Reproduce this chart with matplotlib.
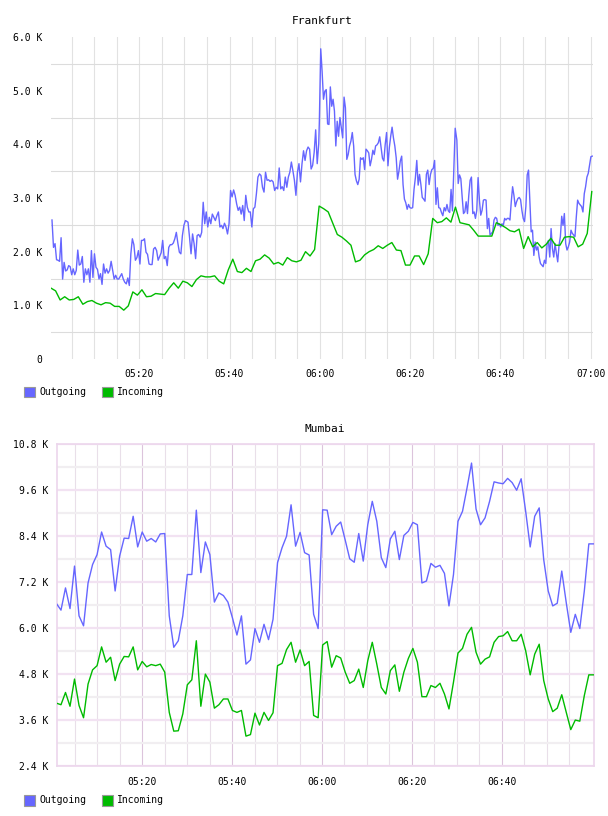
import numpy as np
import matplotlib.pyplot as plt
from matplotlib.patches import Rectangle
from matplotlib.ticker import FuncFormatter

# values in K, x in minutes after 05:00

# frankfurt outgoing (~20 s samples), read in four chunks
fra_out_a = [2.59, 2.08, 2.15, 1.85, 1.84, 1.82, 2.26, 1.49, 1.80, 1.64,
             1.66, 1.74, 1.72, 1.57, 1.68, 1.57, 1.65, 2.03, 1.75, 1.77,
             1.91, 1.43, 1.68, 1.57, 1.68, 1.43, 2.02, 1.52, 1.96, 1.71,
             1.67, 1.49, 1.59, 1.39, 1.77, 1.60, 1.68, 1.60, 1.65, 1.82,
             1.65, 1.49, 1.56, 1.49, 1.49, 1.54, 1.59, 1.49, 1.43, 1.40,
             1.51, 1.37, 1.96, 2.24, 2.13, 1.84, 1.89, 2.02, 1.77, 2.21,
             2.21, 2.24, 1.99, 1.95, 1.77, 1.76, 1.76, 2.05, 2.08, 2.02,
             1.84, 1.91, 1.98, 2.21, 1.87, 1.91, 1.74, 2.08, 2.13, 2.13,
             2.16, 2.24, 2.36, 2.16, 1.99, 1.96, 2.30, 2.49, 2.58]
fra_out_b = [2.55, 2.27, 1.96, 2.33, 2.15, 1.87, 2.30, 2.32, 2.27, 2.36,
             2.92, 2.52, 2.74, 2.46, 2.64, 2.52, 2.70, 2.64, 2.58, 2.67,
             2.74, 2.46, 2.49, 2.43, 2.53, 2.46, 2.33, 2.52, 3.14, 3.02,
             3.15, 3.05, 2.89, 2.77, 2.83, 2.70, 2.86, 2.58, 3.05, 2.83,
             2.74, 2.74, 2.46, 2.80, 2.83, 3.08, 3.39, 3.45, 3.42, 3.20,
             3.11, 3.48, 3.33, 3.34, 3.31, 3.33, 3.30, 3.14, 3.20, 3.17,
             3.56, 3.17, 3.21, 3.14, 3.39, 3.20, 3.39, 3.48, 3.67, 3.51,
             3.33, 3.05, 3.48, 3.64, 3.30, 3.64, 3.88, 3.70, 3.88, 3.95,
             3.91, 3.54, 3.61, 3.85, 4.27, 3.64, 4.01]
fra_out_c = [4.43, 5.78, 5.36, 4.84, 4.99, 5.02, 4.38, 4.37, 5.07, 4.71,
             4.84, 4.62, 3.97, 4.43, 4.15, 4.50, 4.31, 4.12, 4.88, 4.68,
             3.72, 3.81, 3.97, 4.06, 4.22, 3.97, 3.44, 3.32, 3.25, 3.35,
             3.75, 3.72, 3.75, 3.53, 3.91, 3.88, 3.84, 3.60, 3.72, 3.89,
             3.81, 3.97, 3.99, 4.03, 4.14, 3.94, 3.74, 3.69, 4.00, 4.22,
             3.60, 3.94, 4.15, 4.32, 4.12, 3.97, 3.75, 3.35, 3.50, 3.69,
             3.78, 3.25, 2.98, 2.91, 2.79, 2.88, 2.82, 2.81, 2.82, 3.16,
             3.38, 3.70, 3.24, 3.44, 3.25, 3.01, 2.98, 2.94, 3.44, 3.52,
             3.25, 3.44, 3.53, 3.55, 3.70, 2.88, 3.19, 2.82, 2.81, 2.73,
             2.67, 2.82, 2.76, 2.88, 2.76, 2.73, 3.16, 2.76, 3.53, 4.30]
fra_out_d = [4.08, 3.27, 3.43, 3.36, 3.02, 2.71, 2.74, 2.93, 2.71, 3.05,
             3.33, 3.39, 2.71, 2.74, 2.62, 2.77, 3.38, 2.96, 2.68, 2.77,
             2.96, 2.97, 2.96, 2.43, 2.62, 2.31, 2.34, 2.37, 2.59, 2.64,
             2.62, 2.49, 2.52, 2.46, 2.52, 2.49, 2.62, 2.59, 2.62, 2.62,
             2.59, 2.93, 3.21, 3.05, 2.84, 2.93, 2.99, 3.01, 2.97, 2.77,
             2.62, 2.56, 2.84, 3.43, 3.52, 2.96, 2.37, 2.40, 1.93, 2.18,
             2.03, 2.09, 1.90, 1.78, 1.75, 1.72, 1.84, 1.78, 2.15, 2.21,
             1.90, 2.43, 2.06, 1.90, 2.15, 1.97, 1.81, 2.12, 2.28, 2.66,
             2.49, 2.71, 2.15, 2.03, 2.09, 2.18, 2.40, 2.34, 2.31, 2.28,
             2.65, 2.96, 2.90, 2.87, 2.84, 2.74, 3.08, 3.21, 3.39, 3.46,
             3.61, 3.77, 3.78]
# first / last minute of each chunk
fra_out_spans = [(0.65, 30.22), (30.79, 59.76), (59.9, 90.0), (90.37, 120.37)]

# frankfurt incoming, 1 min samples
fra_in = [1.32, 1.27, 1.10, 1.16, 1.10, 1.11, 1.16, 1.02, 1.07, 1.09,
          1.04, 1.01, 1.05, 1.04, 0.98, 0.98, 0.91, 0.99, 1.25, 1.19,
          1.29, 1.16, 1.17, 1.22, 1.21, 1.20, 1.32, 1.42, 1.32, 1.45,
          1.42, 1.35, 1.48, 1.55, 1.53, 1.53, 1.55, 1.45, 1.40, 1.66,
          1.86, 1.63, 1.61, 1.69, 1.63, 1.83, 1.86, 1.94, 1.88, 1.77,
          1.80, 1.75, 1.89, 1.83, 1.81, 1.84, 2.00, 1.92, 2.04,
          2.85, 2.80, 2.74, 2.53, 2.32, 2.27, 2.20, 2.12, 1.81, 1.84,
          1.94, 2.00, 2.04, 2.11, 2.06, 2.12, 2.17, 2.03, 2.02, 1.75,
          1.75, 1.92, 1.92, 1.76, 1.96, 2.62, 2.54, 2.56, 2.63, 2.55,
          2.83, 2.54, 2.52, 2.50, 2.40, 2.29, 2.29, 2.29, 2.29, 2.54,
          2.50, 2.45, 2.39, 2.37, 2.42, 2.06, 2.28, 2.09, 2.17, 2.07,
          2.14, 2.25, 2.12, 2.12, 2.27, 2.28, 2.27, 2.09, 2.14, 2.34, 3.12]
fra_in_span = (0.44, 120.27)

# mumbai, 1 min samples
mum_out = [6.64, 6.47, 7.05, 6.51, 7.62, 6.32, 6.06, 7.18, 7.66, 7.92,
           8.51, 8.14, 8.05, 6.97, 7.88, 8.35, 8.34, 8.92, 8.12, 8.51,
           8.27, 8.34, 8.25, 8.46, 8.47, 6.32, 5.50, 5.67, 6.32, 7.40,
           7.40, 9.08, 7.45, 8.25, 7.92, 6.68, 6.92, 6.85, 6.68, 6.27,
           5.82, 6.32, 5.06, 5.17, 5.99, 5.63, 6.10, 5.70, 6.23, 7.71,
           8.10, 8.40, 9.22, 8.14, 8.50, 7.97, 7.91, 6.36, 5.99,
           9.09, 9.08, 8.44, 8.66, 8.77, 8.30, 7.81, 7.72, 8.47, 7.75,
           8.70, 9.31, 8.79, 7.84, 7.58, 8.33, 8.53, 7.79, 8.42, 8.53,
           8.76, 8.70, 7.18, 7.23, 7.69, 7.59, 7.64, 7.43, 6.58, 7.40,
           8.79, 9.05, 9.66, 10.31, 9.11, 8.70, 8.88, 9.31, 9.82, 9.79,
           9.77, 9.91, 9.80, 9.60, 9.90, 9.05, 8.12, 8.92, 9.14, 7.79,
           6.97, 6.58, 6.65, 7.49, 6.66, 5.89, 6.36, 5.99, 6.97, 8.20, 8.20]
mum_in = [4.04, 4.00, 4.32, 3.96, 4.67, 3.98, 3.66, 4.54, 4.91, 5.02,
          5.51, 5.11, 5.24, 4.63, 5.06, 5.26, 5.25, 5.51, 4.91, 5.13,
          4.99, 5.05, 5.02, 5.06, 4.85, 3.80, 3.31, 3.32, 3.76, 4.52,
          4.65, 5.67, 3.96, 4.80, 4.59, 3.91, 4.00, 4.15, 4.15, 3.85,
          3.80, 3.85, 3.18, 3.22, 3.78, 3.47, 3.80, 3.59, 3.79, 5.02,
          5.08, 5.44, 5.63, 5.11, 5.43, 5.02, 5.13, 3.72, 3.66,
          5.56, 5.65, 4.98, 5.28, 5.22, 4.85, 4.56, 4.63, 4.93, 4.45,
          5.15, 5.63, 5.06, 4.45, 4.28, 4.89, 5.04, 4.35, 4.85, 5.21,
          5.47, 5.11, 4.21, 4.21, 4.50, 4.45, 4.56, 4.28, 3.89, 4.59,
          5.35, 5.47, 5.84, 6.02, 5.37, 5.06, 5.19, 5.25, 5.63, 5.78,
          5.80, 5.91, 5.67, 5.67, 5.84, 5.41, 4.78, 5.32, 5.58, 4.63,
          4.15, 3.82, 3.91, 4.26, 3.80, 3.35, 3.60, 3.57, 4.24, 4.78, 4.78]
mum_span = (0.9, 120.4)

OUT_COL = '#6666ff'
IN_COL = '#00bb00'
FONT = 'DejaVu Sans Mono'
W, H = 608, 816

plt.rcParams['font.family'] = FONT


def hhmm(m, pos=None):
    m = int(round(m))
    return '%02d:%02d' % (5 + m // 60, m % 60)


def kfmt(v, pos=None):
    return '0' if abs(v) < 1e-9 else '%.1f K' % v


def px_axes(fig, l, t, r, b):
    return fig.add_axes([l / W, 1 - b / H, (r - l) / W, (b - t) / H])


def legend(fig, y):
    for x0, col, lab in [(24, OUT_COL, 'Outgoing'), (102, IN_COL, 'Incoming')]:
        fig.add_artist(Rectangle((x0 / W, 1 - (y + 5.5) / H), 11 / W, 11 / H,
                                 transform=fig.transFigure, facecolor=col,
                                 edgecolor='#999999', lw=0.8))
        fig.text((x0 + 15) / W, 1 - y / H, lab, fontsize=7, va='center', ha='left')


fig = plt.figure(figsize=(W / 100, H / 100), dpi=100)

# ---------------- Frankfurt ----------------
ax1 = px_axes(fig, 51, 37, 593, 359)
t_out = np.concatenate([np.linspace(a, b, len(v)) for (a, b), v in
                        zip(fra_out_spans, [fra_out_a, fra_out_b, fra_out_c, fra_out_d])])
v_out = np.concatenate([fra_out_a, fra_out_b, fra_out_c, fra_out_d])
t_in = np.linspace(fra_in_span[0], fra_in_span[1], len(fra_in))
ax1.plot(t_out, v_out, color=OUT_COL, lw=1.0, zorder=3)
ax1.plot(t_in, fra_in, color=IN_COL, lw=1.0, zorder=3)
ax1.set_xlim(0.43, 120.54)
ax1.set_ylim(0, 6)
ax1.set_yticks(np.arange(0, 6.01, 1))
ax1.set_yticks(np.arange(0.5, 6, 1), minor=True)
ax1.set_xticks(np.arange(20, 121, 20))
ax1.set_xticks(np.arange(5, 121, 5), minor=True)
ax1.xaxis.set_major_formatter(FuncFormatter(hhmm))
ax1.yaxis.set_major_formatter(FuncFormatter(kfmt))
ax1.grid(True, axis='x', which='both', color='#e2e2e2', lw=0.8)
ax1.grid(True, axis='y', which='minor', color='#dcdcdc', lw=0.8)
ax1.grid(False, axis='y', which='major')
ax1.set_axisbelow(True)
for s in ax1.spines.values():
    s.set_visible(False)
ax1.tick_params(which='both', length=0, labelsize=7)
ax1.tick_params(axis='y', pad=6)
ax1.tick_params(axis='x', pad=7)
ax1.set_title('Frankfurt', fontsize=8, pad=9)
legend(fig, 392)

# ---------------- Mumbai ----------------
ax2 = px_axes(fig, 56.7, 444.3, 593.7, 766)
t_m = np.linspace(mum_span[0], mum_span[1], len(mum_out))
ax2.plot(t_m, mum_out, color=OUT_COL, lw=1.0, zorder=3)
ax2.plot(t_m, mum_in, color=IN_COL, lw=1.0, zorder=3)
ax2.set_xlim(0.95, 120.48)
ax2.set_ylim(2.4, 10.8)
ax2.set_yticks(np.arange(2.4, 10.81, 1.2))
ax2.set_yticks(np.arange(3.0, 10.5, 1.2), minor=True)
ax2.set_xticks([20, 40, 60, 80, 100])
ax2.set_xticks([m for m in range(5, 120, 5) if m % 20], minor=True)
ax2.xaxis.set_major_formatter(FuncFormatter(hhmm))
ax2.yaxis.set_major_formatter(FuncFormatter(kfmt))
ax2.grid(True, axis='x', which='major', color='#dcc4dc', lw=0.8)
ax2.grid(True, axis='x', which='minor', color='#e9dfe9', lw=0.8)
ax2.grid(True, axis='y', which='major', color='#f2e2f2', lw=1.6)
ax2.grid(True, axis='y', which='minor', color='#f1eef1', lw=1.6)
ax2.set_axisbelow(True)
for s in ax2.spines.values():
    s.set_color('#ecd6ec')
    s.set_linewidth(1.2)
ax2.tick_params(which='both', length=0, labelsize=7)
ax2.tick_params(axis='y', pad=6)
ax2.tick_params(axis='x', pad=8)
ax2.set_title('Mumbai', fontsize=8, pad=9)
legend(fig, 800)

fig.savefig('out.png', dpi=100)
